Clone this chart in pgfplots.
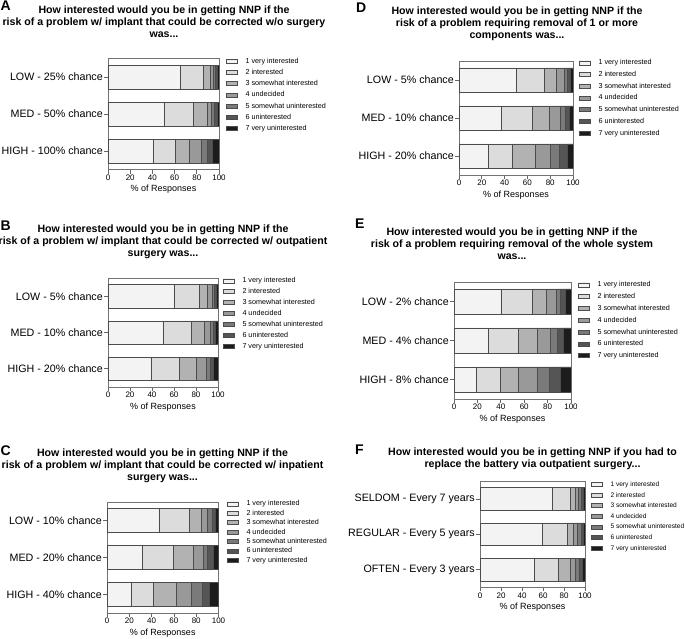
\documentclass[border=0pt]{standalone}
\usepackage{fontspec}
\setmainfont{Liberation Sans}
\usepackage{pgfplots}
\pgfplotsset{compat=1.18}
\usepackage{pgfplotstable}
\usetikzlibrary{patterns.meta}

\definecolor{cB}{HTML}{DCDCDC}
\definecolor{cC}{HTML}{B2B2B2}
\definecolor{cD}{HTML}{999999}
\definecolor{cE}{HTML}{7A7A7A}
\definecolor{cF}{HTML}{555555}
\definecolor{cG}{HTML}{1C1C1C}

% columns: 1 very interested ... 7 very uninterested; rows LOW, MED, HIGH
\pgfplotstableread{
c1   c2   c3   c4   c5   c6   c7
65   21   6    2.5  2    2    1.5
51   26   12.5 3.5  2.5  2.5  2
41   20   12   11   5    5    6
}\dataA
\pgfplotstableread{
c1   c2   c3   c4   c5   c6   c7
60   23   7.5  4    2    2    1.5
50   26   11.5 5.5  2.5  2    2.5
39   26   15   9    4    3    4
}\dataB
\pgfplotstableread{
c1   c2   c3   c4   c5   c6   c7
46.5 27   11   5.5  4    3.5  2.5
32   27   18.5 8.5  4    5.5  4.5
21.5 20   20.5 14   9.5  6.5  8
}\dataC
\pgfplotstableread{
c1   c2   c3   c4   c5   c6   c7
50   24.5 11   6.5  3    3    2
37   27   15   10   4    4    3
26   21   19.5 13.5 8    7    5
}\dataD
\pgfplotstableread{
c1   c2   c3   c4   c5   c6   c7
40   26.5 12.5 8.5  3.5  4    5
29.5 25   17   11   5.5  5.5  6.5
19   20.5 15   17   10   9    9.5
}\dataE
\pgfplotstableread{
c1   c2   c3   c4   c5   c6   c7
69   17   4.5  3    2.5  2    2
59.5 24   5.5  4    3    2    2
52   22.5 11.5 4.5  4    2.5  3
}\dataF

\newcommand\titlef{\fontsize{10.6}{12}\selectfont\bfseries}
\newcommand\letterf{\fontsize{14}{14}\selectfont\bfseries}

\pgfplotsset{
  nnp/.style={
    xbar stacked, scale only axis, anchor=south west,
    xmin=0, xmax=100, ymin=-0.5, ymax=2.5, y dir=reverse,
    xtick={0,20,...,100}, ytick={0,1,2},
    tick align=outside, tick pos=left, major tick length=4pt,
    axis line style={black!55, line width=0.8pt},
    tick style={black!60, line width=0.7pt},
    /pgf/number format/assume math mode=true,
    xticklabel style={font=\fontsize{8}{9}\selectfont, inner sep=1pt},
    yticklabel style={font=\fontsize{10.7}{12}\selectfont, inner sep=1pt},
    xlabel={\% of Responses},
    xlabel style={font=\fontsize{9}{10}\selectfont, inner sep=0pt, yshift=-3.5pt},
    legend cell align=left,
    legend style={draw=none, fill=none, at={(1,1)}, anchor=north west,
      inner sep=0pt, outer sep=0pt, font=\fontsize{7.2}{8}\selectfont,
      nodes={inner sep=0pt, text height=5.5pt, text depth=1.5pt}},
  },
  bs/.style={draw=black!70, line width=0.5pt,
    legend image code/.code={
      \draw[##1, line width=0.5pt] (0pt,-2pt) rectangle (11pt,2pt);
      \path (19pt,0pt);}},
}

\newcommand\bars[1]{%
  \addplot[bs, pattern={Dots[distance=2pt, radius=0.45pt]}, pattern color=black!55]
    table[x=c1, y expr=\coordindex]{#1};
  \addplot[bs, fill=cB] table[x=c2, y expr=\coordindex]{#1};
  \addplot[bs, fill=cC] table[x=c3, y expr=\coordindex]{#1};
  \addplot[bs, fill=cD] table[x=c4, y expr=\coordindex]{#1};
  \addplot[bs, fill=cE] table[x=c5, y expr=\coordindex]{#1};
  \addplot[bs, fill=cF] table[x=c6, y expr=\coordindex]{#1};
  \addplot[bs, fill=cG] table[x=c7, y expr=\coordindex]{#1};
  \legend{1 very interested, 2 interested, 3 somewhat interested,
    4 undecided, 5 somewhat uninterested, 6 uninterested, 7 very uninterested}
}

\begin{document}
\begin{tikzpicture}[x=1pt, y=1pt]
\useasboundingbox (0,0) rectangle (685,-638);

% ---- A ----
\node[font=\letterf, anchor=west, inner sep=0pt] at (0.5,-6) {A};
\node[font=\titlef, align=center] at (164,-22) {How interested would you be in getting NNP if the\\risk of a problem w/ implant that could be corrected w/o surgery\\was...};
\begin{axis}[nnp, at={(108pt,-169.5pt)}, width=111pt, height=111pt, bar width=24pt,
  yticklabels={LOW - 25\% chance, MED - 50\% chance, HIGH - 100\% chance},
  legend style={xshift=7pt, yshift=0.7pt, row sep=4.2pt}]
\bars{\dataA}
\end{axis}

% ---- B ----
\node[font=\letterf, anchor=west, inner sep=0pt] at (0.5,-225.5) {B};
\node[font=\titlef, align=center] at (163,-241.5) {How interested would you be in getting NNP if the\\risk of a problem w/ implant that could be corrected w/ outpatient\\surgery was...};
\begin{axis}[nnp, at={(108pt,-387pt)}, width=110pt, height=109pt, bar width=23.5pt,
  yticklabels={LOW - 5\% chance, MED - 10\% chance, HIGH - 20\% chance},
  legend style={xshift=5pt, yshift=0.7pt, row sep=3.9pt}]
\bars{\dataB}
\end{axis}

% ---- C ----
\node[font=\letterf, anchor=west, inner sep=0pt] at (0.5,-450.5) {C};
\node[font=\titlef, align=center] at (162.5,-465.5) {How interested would you be in getting NNP if the\\risk of a problem w/ implant that could be corrected w/ inpatient\\surgery was...};
\begin{axis}[nnp, at={(107pt,-613pt)}, width=111.5pt, height=111pt, bar width=24pt,
  yticklabels={LOW - 10\% chance, MED - 20\% chance, HIGH - 40\% chance},
  legend style={xshift=8.5pt, yshift=1.7pt, row sep=2.4pt}]
\bars{\dataC}
\end{axis}

% ---- D ----
\node[font=\letterf, anchor=west, inner sep=0pt] at (356,-7.5) {D};
\node[font=\titlef, align=center] at (517,-23.3) {How interested would you be in getting NNP if the\\risk of a problem requiring removal of 1 or more\\components was...};
\begin{axis}[nnp, at={(459pt,-175pt)}, width=114pt, height=114pt, bar width=24.5pt,
  yticklabels={LOW - 5\% chance, MED - 10\% chance, HIGH - 20\% chance},
  legend style={xshift=6pt, yshift=1.7pt, row sep=4.7pt}]
\bars{\dataD}
\end{axis}

% ---- E ----
\node[font=\letterf, anchor=west, inner sep=0pt] at (355,-224) {E};
\node[font=\titlef, align=center] at (512,-243.3) {How interested would you be in getting NNP if the\\risk of a problem requiring removal of the whole system\\was...};
\begin{axis}[nnp, at={(454pt,-399pt)}, width=117pt, height=117pt, bar width=25.5pt,
  yticklabels={LOW - 2\% chance, MED - 4\% chance, HIGH - 8\% chance},
  legend style={xshift=7pt, yshift=0.7pt, row sep=4.8pt}]
\bars{\dataE}
\end{axis}

% ---- F ----
\node[font=\letterf, anchor=west, inner sep=0pt] at (355,-450) {F};
\node[font=\titlef, align=center] at (532.5,-459) {How interested would you be in getting NNP if you had to\\replace the battery via outpatient surgery...};
\begin{axis}[nnp, at={(480pt,-587.3pt)}, width=105pt, height=106pt, bar width=22.7pt,
  yticklabels={SELDOM - Every 7 years, REGULAR - Every 5 years, OFTEN - Every 3 years},
  legend style={xshift=6pt, yshift=0.3pt, row sep=3.6pt, font=\fontsize{6.6}{7}\selectfont}]
\bars{\dataF}
\end{axis}

\end{tikzpicture}
\end{document}
